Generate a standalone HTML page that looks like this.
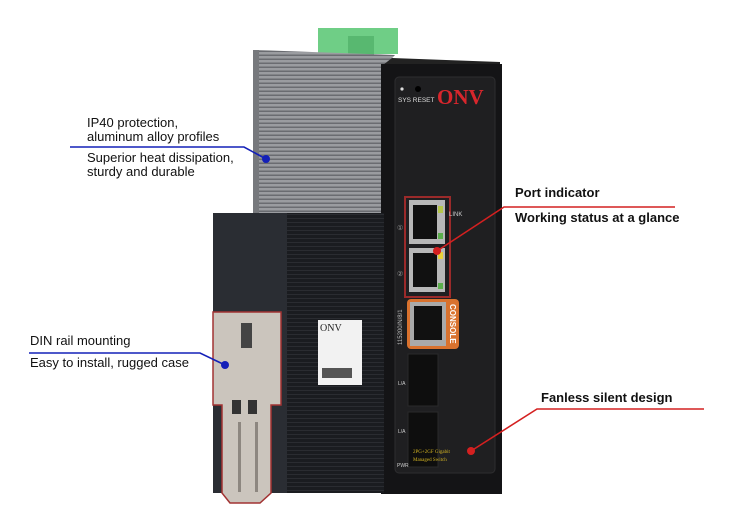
<!DOCTYPE html>
<html><head><meta charset="utf-8"><style>
html,body{margin:0;padding:0;background:#fff;width:750px;height:526px;overflow:hidden}
svg{display:block}
.s{font-family:"Liberation Sans",sans-serif}
.sr{font-family:"Liberation Serif",serif}
</style></head><body>
<svg width="750" height="526" viewBox="0 0 750 526">
<defs>
<pattern id="ribs" width="6" height="4" patternUnits="userSpaceOnUse">
<rect width="6" height="4" fill="#9a9ca0"/><rect y="2.5" width="6" height="1.5" fill="#6a6c71"/>
</pattern>
<pattern id="ribd" width="6" height="4" patternUnits="userSpaceOnUse">
<rect width="6" height="4" fill="#1a1c20"/><rect y="2" width="6" height="1" fill="#2a2c31"/>
</pattern>
</defs>
<rect x="318" y="28" width="80" height="26" fill="#6fce86"/>
<rect x="348" y="36" width="26" height="22" fill="#58b870"/>
<polygon points="256,50 395,55 385,66 385,235 253,235" fill="url(#ribs)"/>
<rect x="253" y="50" width="6" height="185" fill="#77797d"/>
<polygon points="383,65 392,58 500,62 500,68" fill="#222"/>
<rect x="381" y="64" width="121" height="430" fill="#141416"/>
<rect x="395" y="77" width="100" height="396" rx="4" fill="#1f1f21" stroke="#2e2e30"/>
<text x="437" y="104" class="sr" font-size="21" font-weight="bold" fill="#d8262c">ONV</text>
<text x="398" y="102" class="s" font-size="6.5" fill="#ddd">SYS RESET</text>
<circle cx="402" cy="89" r="1.6" fill="#ddd"/><circle cx="418" cy="89" r="3" fill="#000"/>
<rect x="405" y="197" width="45" height="100" fill="none" stroke="#9b2a2a" stroke-width="2"/>
<rect x="409" y="200" width="36" height="44" fill="#b8b8b8"/><rect x="413" y="205" width="24" height="34" fill="#111"/>
<rect x="409" y="248" width="36" height="44" fill="#b8b8b8"/><rect x="413" y="253" width="24" height="34" fill="#111"/>
<rect x="438" y="206" width="5" height="7" fill="#b5c64a"/><rect x="438" y="233" width="5" height="6" fill="#5cae4c"/>
<rect x="438" y="252" width="5" height="7" fill="#e8d23a"/><rect x="438" y="283" width="5" height="6" fill="#5cae4c"/>
<text x="449" y="216" class="s" font-size="6" fill="#ccc">LINK</text>
<text x="397" y="230" class="s" font-size="7" fill="#999">①</text>
<text x="397" y="276" class="s" font-size="7" fill="#999">②</text>
<rect x="407" y="299" width="52" height="50" rx="4" fill="#d9722e"/>
<rect x="410" y="302" width="36" height="44" fill="#aaa"/><rect x="414" y="306" width="28" height="34" fill="#111"/>
<text x="450" y="304" class="s" font-size="8" font-weight="bold" fill="#fff" transform="rotate(90 450 304)">CONSOLE</text>
<text x="402" y="345" class="s" font-size="6" fill="#bbb" transform="rotate(-90 402 345)">115200/N/8/1</text>
<rect x="408" y="354" width="30" height="52" fill="#0e0e0e" stroke="#2a2a2a"/>
<rect x="408" y="412" width="30" height="55" fill="#0e0e0e" stroke="#2a2a2a"/>
<text x="398" y="385" class="s" font-size="5" fill="#ccc">L/A</text>
<text x="398" y="433" class="s" font-size="5" fill="#ccc">L/A</text>
<text x="397" y="467" class="s" font-size="5" fill="#ccc">PWR</text>
<text x="413" y="453" class="sr" font-size="5" fill="#d4b422">2PG+2GF Gigabit</text>
<text x="413" y="461" class="sr" font-size="5" fill="#d4b422">Managed Switch</text>
<rect x="213" y="213" width="76" height="280" fill="#2a2d33"/>
<rect x="287" y="213" width="97" height="280" fill="url(#ribd)"/>
<rect x="318" y="320" width="44" height="65" fill="#f2f2f2"/>
<text x="320" y="331" class="sr" font-size="10" fill="#222">ONV</text>
<rect x="322" y="368" width="30" height="10" fill="#555"/>
<polygon points="213,312 281,312 281,405 271,405 271,493 260,503 230,503 222,493 222,405 213,405" fill="#cbc5bd" stroke="#a23333" stroke-width="1.5"/>
<rect x="241" y="323" width="11" height="25" fill="#444"/>
<rect x="232" y="400" width="9" height="14" fill="#333"/><rect x="248" y="400" width="9" height="14" fill="#333"/>
<rect x="238" y="422" width="3" height="70" fill="#8d8780"/><rect x="255" y="422" width="3" height="70" fill="#8d8780"/>
<g fill="none" stroke-width="1.6">
<polyline points="70,147 244,147 266,159" stroke="#1420b8"/>
<polyline points="29,353 200,353 225,365" stroke="#1420b8"/>
<polyline points="675,207 504,207 437,251" stroke="#d42020"/>
<polyline points="704,409 537,409 471,451" stroke="#d42020"/>
</g>
<circle cx="266" cy="159" r="4" fill="#1420b8"/>
<circle cx="225" cy="365" r="4" fill="#1420b8"/>
<circle cx="437" cy="251" r="4" fill="#d42020"/>
<circle cx="471" cy="451" r="4" fill="#d42020"/>
<g class="s" font-size="13" fill="#111">
<text x="87" y="127">IP40 protection,</text>
<text x="87" y="141">aluminum alloy profiles</text>
<text x="87" y="162">Superior heat dissipation,</text>
<text x="87" y="176">sturdy and durable</text>
<text x="30" y="345">DIN rail mounting</text>
<text x="30" y="367">Easy to install, rugged case</text>
</g>
<g class="s" font-size="13" fill="#111" font-weight="600">
<text x="515" y="197">Port indicator</text>
<text x="515" y="222">Working status at a glance</text>
<text x="541" y="402">Fanless silent design</text>
</g>
</svg>
</body></html>
